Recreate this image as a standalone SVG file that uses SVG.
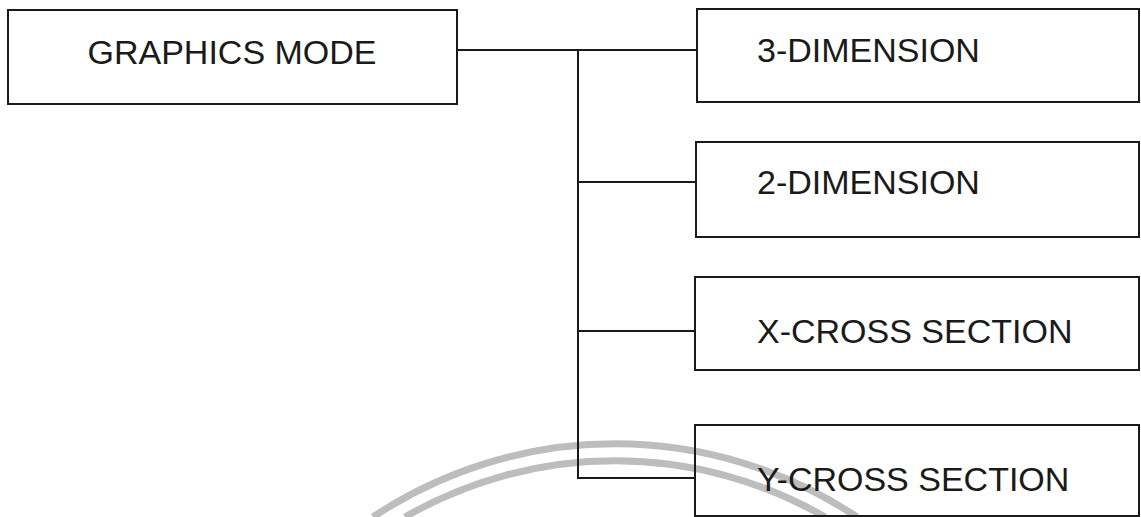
<svg xmlns="http://www.w3.org/2000/svg" width="1141" height="517" viewBox="0 0 1141 517">
  <style>
    .box { fill: none; stroke: #1a1a1a; stroke-width: 2; }
    .wire { fill: none; stroke: #1a1a1a; stroke-width: 2; }
    .lbl { font-family: "Liberation Sans", Arial, sans-serif; font-size: 34px; fill: #1a1a1a; }
    .arc { fill: none; stroke: #bdbdbd; stroke-width: 7; }
  </style>
  <rect width="1141" height="517" fill="#ffffff"/>
  <g id="background-arcs">
    <path class="arc" d="M 373 517 A 437 437 0 0 1 857 517"/>
    <path class="arc" d="M 405 517 A 420 420 0 0 1 825 517"/>
  </g>
  <g id="connectors">
    <path class="wire" d="M 457 50 H 697"/>
    <path class="wire" d="M 578 50 V 478 H 695"/>
    <path class="wire" d="M 578 182 H 696"/>
    <path class="wire" d="M 578 331 H 695"/>
  </g>
  <g id="node-graphics-mode">
    <rect class="box" x="8" y="10" width="449" height="94"/>
    <text class="lbl" x="232" y="64" text-anchor="middle">GRAPHICS MODE</text>
  </g>
  <g id="node-3d">
    <rect class="box" x="697" y="9" width="442" height="93"/>
    <text class="lbl" x="757" y="62">3-DIMENSION</text>
  </g>
  <g id="node-2d">
    <rect class="box" x="696" y="142" width="443" height="95"/>
    <text class="lbl" x="757" y="194">2-DIMENSION</text>
  </g>
  <g id="node-x-cross">
    <rect class="box" x="695" y="277" width="444" height="93"/>
    <text class="lbl" x="757" y="343">X-CROSS SECTION</text>
  </g>
  <g id="node-y-cross">
    <rect class="box" x="695" y="425" width="444" height="91"/>
    <text class="lbl" x="757" y="491">Y-CROSS SECTION</text>
  </g>
</svg>
